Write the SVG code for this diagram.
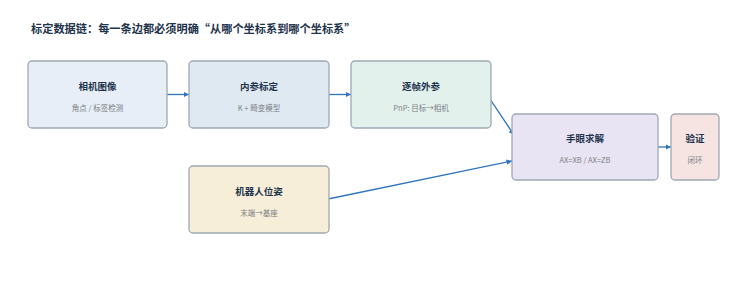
<svg xmlns="http://www.w3.org/2000/svg" width="744" height="281" viewBox="0 0 744 281">
<defs>
<style>
.n{stroke:#9ea8b3;stroke-width:1.3}
.t{font-family:"Noto Sans CJK SC","Noto Sans",sans-serif;font-weight:bold;font-size:9.5px;fill:#1f344d;text-anchor:middle}
.s{font-family:"Noto Sans CJK SC","Noto Sans",sans-serif;font-size:7.5px;fill:#7b7f85;text-anchor:middle}
.e{stroke:#2f74bd;stroke-width:1.3;fill:none;marker-end:url(#a)}
</style>
<marker id="a" viewBox="0 0 10 10" refX="10" refY="5" markerWidth="5.5" markerHeight="5.5" orient="auto" markerUnits="userSpaceOnUse"><path d="M0,0L10,5L0,10z" fill="#2f74bd"/></marker>
</defs>
<rect width="744" height="281" fill="#ffffff"/>
<text x="31" y="33" font-family="'Noto Sans CJK SC',sans-serif" font-weight="bold" font-size="11.2px" fill="#1f344d">标定数据链：每一条边都必须明确“从哪个坐标系到哪个坐标系”</text>
<g id="edges">
<line class="e" x1="167" y1="94.5" x2="189" y2="94.5"/>
<line class="e" x1="329" y1="94.5" x2="351" y2="94.5"/>
<line class="e" x1="488" y1="96" x2="514" y2="135"/>
<line class="e" x1="328" y1="199" x2="512" y2="161"/>
<line class="e" x1="657" y1="147" x2="671" y2="147"/>
</g>
<g id="n1"><rect class="n" x="28" y="61" width="139" height="67" rx="4" fill="#e8eef7"/><text class="t" x="97.5" y="90">相机图像</text><text class="s" x="97.5" y="111">角点 / 标签检测</text></g>
<g id="n2"><rect class="n" x="189" y="61" width="140" height="67" rx="4" fill="#dfe9f2"/><text class="t" x="259" y="90">内参标定</text><text class="s" x="259" y="111">K + 畸变模型</text></g>
<g id="n3"><rect class="n" x="351" y="61" width="140" height="67" rx="4" fill="#e3f1ed"/><text class="t" x="421" y="90">逐帧外参</text><text class="s" x="421" y="111">PnP: 目标→相机</text></g>
<g id="n4"><rect class="n" x="512" y="114" width="146" height="66" rx="4" fill="#e9e4f3"/><text class="t" x="585" y="142">手眼求解</text><text class="s" x="585" y="163">AX=XB / AX=ZB</text></g>
<g id="n5"><rect class="n" x="671" y="114" width="48" height="66" rx="4" fill="#f6e4e2"/><text class="t" x="695" y="142">验证</text><text class="s" x="695" y="163">闭环</text></g>
<g id="n6"><rect class="n" x="189" y="166" width="140" height="67" rx="4" fill="#f7eed9"/><text class="t" x="259" y="195">机器人位姿</text><text class="s" x="259" y="216">末端→基座</text></g>
</svg>
